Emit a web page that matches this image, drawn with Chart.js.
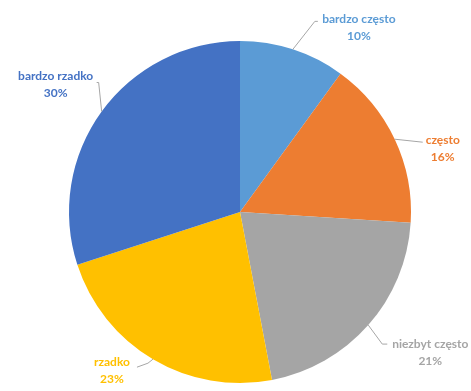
<!DOCTYPE html>
<html>
<head>
<meta charset="utf-8">
<script src="https://cdn.jsdelivr.net/npm/chart.js@4/dist/chart.umd.min.js"></script>
<style>
  html, body { margin: 0; padding: 0; background: #fff; }
  #pie { display: block; }
</style>
</head>
<body>
<canvas id="pie" width="471" height="391"></canvas>
<script>
const categories = ["bardzo często", "często", "niezbyt często", "rzadko", "bardzo rzadko"];
const shares = [10, 16, 21, 23, 30];
const sliceColors = ["#5B9BD5", "#ED7D31", "#A5A5A5", "#FFC000", "#4472C4"];

// label placement relative to the point on the rim at each slice's middle
const labelLayout = [
  { leader: [[22, -28], [25, -28]], text: [66, -30] },
  { leader: [[28, 3]], text: [48, 1] },
  { leader: [[14, 19], [19, 19]], text: [62, 19] },
  { leader: [[-5, 4], [-16, 8]], text: [-41, 3] },
  { leader: [[-3, -29], [-5, -29]], text: [-46, -35] }
];

const calloutLabels = {
  id: "calloutLabels",
  afterDraw(chart) {
    const ctx = chart.ctx;
    const meta = chart.getDatasetMeta(0);
    ctx.save();
    meta.data.forEach((arc, i) => {
      const p = arc.getProps(["x", "y", "startAngle", "endAngle", "outerRadius"], true);
      const mid = (p.startAngle + p.endAngle) / 2;
      const ex = p.x + Math.cos(mid) * p.outerRadius;
      const ey = p.y + Math.sin(mid) * p.outerRadius;
      const lay = labelLayout[i];

      ctx.strokeStyle = "#A6A6A6";
      ctx.lineWidth = 1;
      ctx.beginPath();
      ctx.moveTo(ex, ey);
      lay.leader.forEach(pt => ctx.lineTo(ex + pt[0], ey + pt[1]));
      ctx.stroke();

      ctx.fillStyle = sliceColors[i];
      ctx.font = "bold 12px Lato";
      ctx.textAlign = "center";
      ctx.textBaseline = "middle";
      const tx = ex + lay.text[0];
      const ty = ey + lay.text[1];
      ctx.fillText(categories[i], tx, ty);
      ctx.fillText(shares[i] + "%", tx, ty + 17);
    });
    ctx.restore();
  }
};

new Chart(document.getElementById("pie"), {
  type: "pie",
  data: {
    labels: categories,
    datasets: [{
      data: shares,
      backgroundColor: sliceColors,
      borderWidth: 0
    }]
  },
  options: {
    responsive: false,
    animation: false,
    layout: { padding: { top: 41, bottom: 8, left: 69, right: 60 } },
    plugins: {
      legend: { display: false },
      tooltip: { enabled: false }
    }
  },
  plugins: [calloutLabels]
});
</script>
</body>
</html>
